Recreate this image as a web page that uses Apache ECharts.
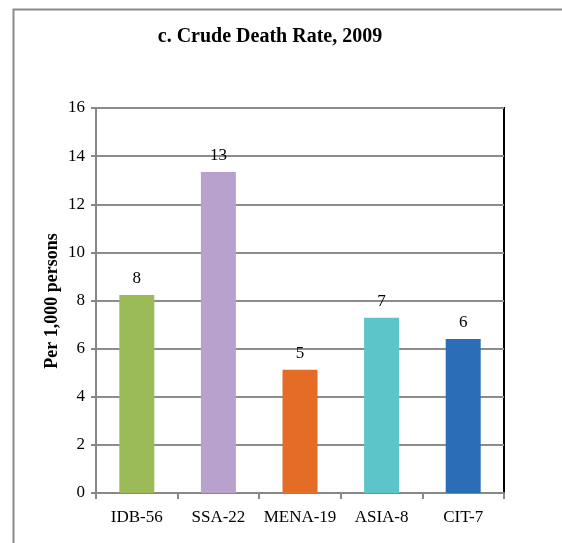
<!DOCTYPE html>
<html><head><meta charset="utf-8">
<script src="https://cdn.jsdelivr.net/npm/echarts@6/dist/echarts.min.js"></script>
<style>html,body{margin:0;padding:0;background:#fff}#c{width:562px;height:543px}</style>
</head><body><div id="c"></div>
<script>
var categories = ['IDB-56', 'SSA-22', 'MENA-19', 'ASIA-8', 'CIT-7'];
var values = [8.23, 13.34, 5.12, 7.28, 6.4];
var barColors = ['#9BBB59', '#B9A1CD', '#E46C26', '#5CC5CA', '#2B6EB7'];
var yTicks = [0, 2, 4, 6, 8, 10, 12, 14, 16];
var yAxisTitle = 'Per 1,000 persons';

var chart = echarts.init(document.getElementById('c'), null, {renderer: 'canvas'});
var serif = '"Liberation Serif", "Times New Roman", serif';
chart.setOption({
  animation: false,
  backgroundColor: '#fff',
  graphic: [{
    type: 'rect', left: 11, top: 7, shape: {width: 620, height: 600},
    style: {fill: 'none', stroke: '#8a8a8a', lineWidth: 2}, z: -1
  }, {
    type: 'text', x: 52, y: 301, rotation: Math.PI / 2,
    style: {text: yAxisTitle, font: 'bold 18px ' + serif, fill: '#000', align: 'center', verticalAlign: 'middle'}
  }],
  title: {
    text: 'c. Crude Death Rate, 2009',
    left: 265, top: 22, textAlign: 'center',
    textStyle: {fontFamily: serif, fontWeight: 'bold', fontSize: 20, color: '#000'}
  },
  grid: {left: 96, right: 58, top: 108, bottom: 50, show: true, borderColor: '#000', borderWidth: 2, backgroundColor: 'transparent'},
  xAxis: {
    type: 'category', data: categories,
    axisLine: {lineStyle: {color: '#888', width: 2}},
    axisTick: {show: true, alignWithLabel: false, interval: 0, length: 6, lineStyle: {color: '#888', width: 2}},
    axisLabel: {fontFamily: serif, fontSize: 17, color: '#000', margin: 16, interval: 0},
    splitLine: {show: false}
  },
  yAxis: {
    type: 'value', min: yTicks[0], max: yTicks[yTicks.length - 1], interval: 2,
    axisLine: {show: true, lineStyle: {color: '#888', width: 2}},
    axisTick: {show: true, length: 5, lineStyle: {color: '#888', width: 2}},
    axisLabel: {fontFamily: serif, fontSize: 17, color: '#000', margin: 11},
    splitLine: {show: true, lineStyle: {color: '#8c8c8c', width: 2}}
  },
  series: [{
    type: 'bar', barWidth: 35,
    data: values.map(function (v, i) { return {value: v, itemStyle: {color: barColors[i]}}; }),
    label: {
      show: true, position: 'top', distance: 8,
      fontFamily: serif, fontSize: 17, color: '#000',
      formatter: function (p) { return Math.round(p.value); }
    }
  }]
});
</script></body></html>
